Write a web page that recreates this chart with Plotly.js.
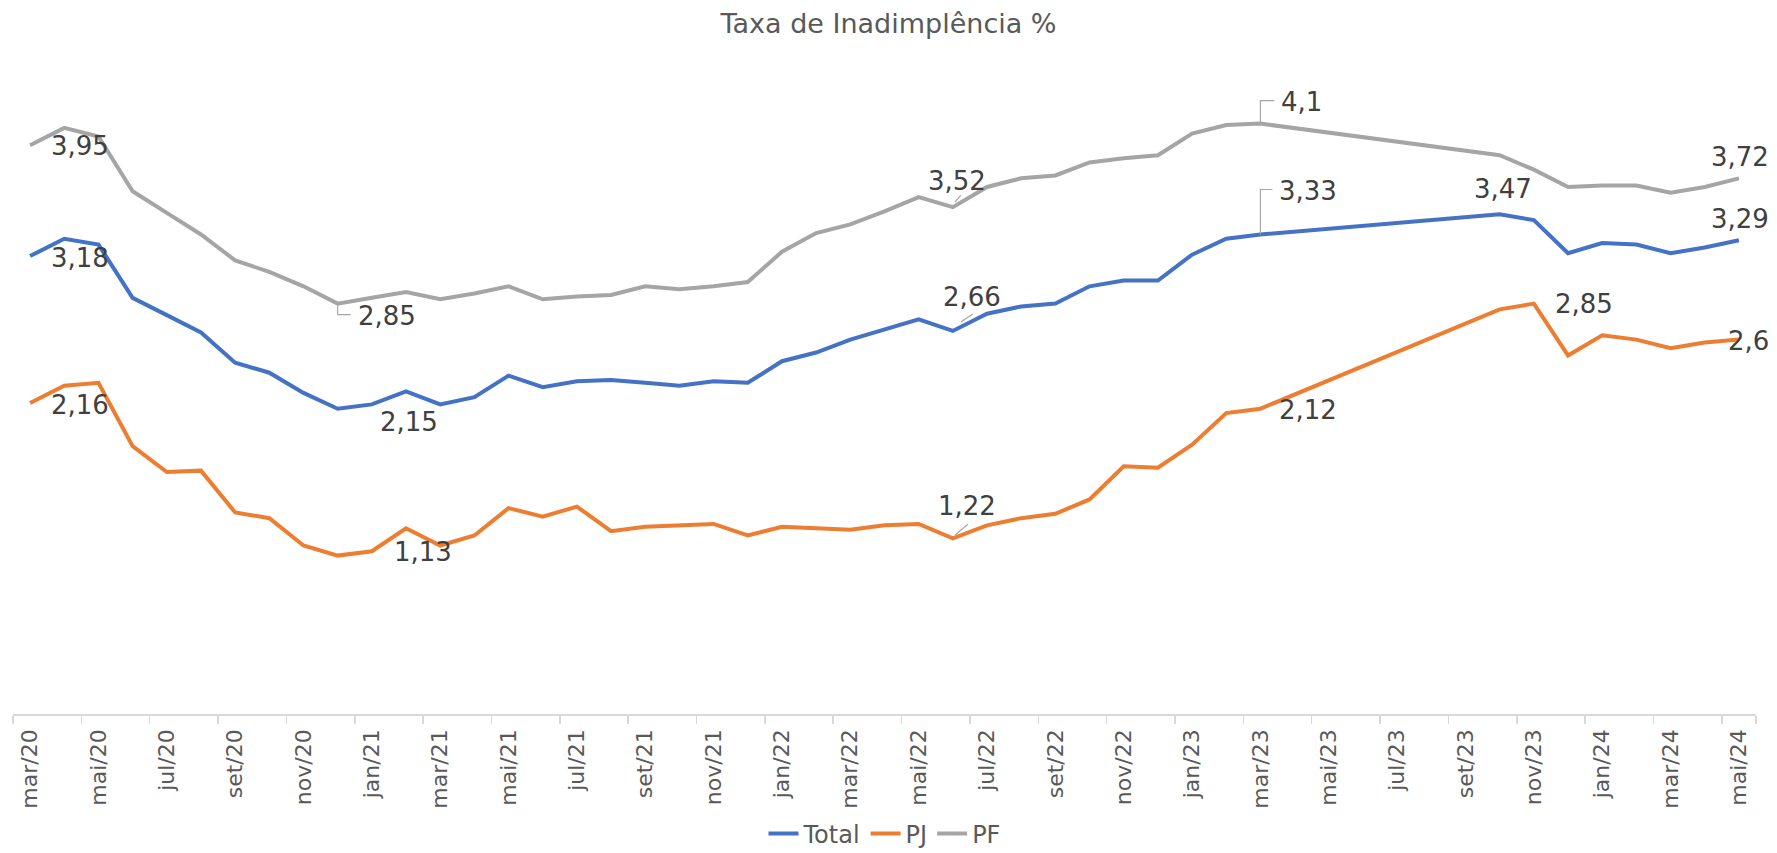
<!DOCTYPE html>
<html>
<head>
<meta charset="utf-8">
<script src="https://cdn.plot.ly/plotly-3.0.1.min.js"></script>
<style>html,body{margin:0;padding:0;background:#fff;}#chart{width:1777px;height:853px;}</style>
</head>
<body>
<div id="chart"></div>
<script>
// Categories (monthly; abr/23–set/23 have no data)
var months = [
  'mar/20','abr/20','mai/20','jun/20','jul/20','ago/20','set/20','out/20','nov/20','dez/20',
  'jan/21','fev/21','mar/21','abr/21','mai/21','jun/21','jul/21','ago/21','set/21','out/21','nov/21','dez/21',
  'jan/22','fev/22','mar/22','abr/22','mai/22','jun/22','jul/22','ago/22','set/22','out/22','nov/22','dez/22',
  'jan/23','fev/23','mar/23','abr/23','mai/23','jun/23','jul/23','ago/23','set/23','out/23','nov/23','dez/23',
  'jan/24','fev/24','mar/24','abr/24','mai/24'
];

var total = [3.18,3.30,3.26,2.89,2.77,2.65,2.44,2.37,2.23,2.12,
  2.15,2.24,2.15,2.20,2.35,2.27,2.31,2.32,2.30,2.28,2.31,2.30,
  2.45,2.51,2.60,2.67,2.74,2.66,2.78,2.83,2.85,2.97,3.01,3.01,
  3.19,3.30,3.33,null,null,null,null,null,null,3.47,3.43,3.20,
  3.27,3.26,3.20,3.24,3.29];

var pj = [2.16,2.28,2.30,1.86,1.68,1.69,1.40,1.36,1.17,1.10,
  1.13,1.29,1.17,1.24,1.43,1.37,1.44,1.27,1.30,1.31,1.32,1.24,
  1.30,1.29,1.28,1.31,1.32,1.22,1.31,1.36,1.39,1.49,1.72,1.71,
  1.87,2.09,2.12,null,null,null,null,null,null,2.81,2.85,2.49,
  2.63,2.60,2.54,2.58,2.60];

var pf = [3.95,4.07,4.01,3.63,3.48,3.33,3.15,3.07,2.97,2.85,
  2.89,2.93,2.88,2.92,2.97,2.88,2.90,2.91,2.97,2.95,2.97,3.00,
  3.21,3.34,3.40,3.49,3.59,3.52,3.66,3.72,3.74,3.83,3.86,3.88,
  4.03,4.09,4.10,null,null,null,null,null,null,3.88,3.78,3.66,
  3.67,3.67,3.62,3.66,3.72];

var seriesNames = ['Total','PJ','PF'];
var seriesColors = ['#4472C4','#ED7D31','#A5A5A5'];
var seriesData = {Total: total, PJ: pj, PF: pf};

// Which points carry a data label (series, month index) and where the text sits (pixels)
var labelSpec = [
  {s:'PF',    i:0,  anchor:'left',   dx:19, dy:1},
  {s:'Total', i:0,  anchor:'left',   dx:19, dy:2},
  {s:'PJ',    i:0,  anchor:'left',   dx:19, dy:2},
  {s:'PF',    i:9,  anchor:'left',   dx:18, dy:12, leader:[[0,0],[0,11],[13,11]]},
  {s:'Total', i:10, anchor:'center', dx:37, dy:18},
  {s:'PJ',    i:10, anchor:'left',   dx:20, dy:1},
  {s:'PF',    i:27, anchor:'center', dx:4,  dy:-26, leader:[[2,-5],[8,-12]]},
  {s:'Total', i:27, anchor:'center', dx:19, dy:-34, leader:[[8,-9],[20,-17]]},
  {s:'PJ',    i:27, anchor:'center', dx:14, dy:-32, leader:[[2,-3],[15,-14]]},
  {s:'PF',    i:36, anchor:'left',   dx:19, dy:-22, leader:[[0,0],[0,-23],[14,-23]]},
  {s:'Total', i:36, anchor:'left',   dx:17, dy:-43, leader:[[0,0],[0,-45],[12,-45]]},
  {s:'PJ',    i:36, anchor:'left',   dx:17, dy:1},
  {s:'Total', i:43, anchor:'center', dx:3,  dy:-25},
  {s:'PJ',    i:44, anchor:'left',   dx:19, dy:0},
  {s:'PF',    i:50, anchor:'center', dx:1,  dy:-21},
  {s:'Total', i:50, anchor:'center', dx:1,  dy:-21},
  {s:'PJ',    i:50, anchor:'right',  dx:32, dy:1}
];

function fmt(v){ return String(v).replace('.', ','); }

var traces = seriesNames.map(function(n, k){
  return {
    type:'scatter', mode:'lines', name:n,
    x: months, y: seriesData[n],
    connectgaps:true,
    line:{color:seriesColors[k], width:4},
    hoverinfo:'skip'
  };
});

var tickLabels = months.filter(function(m, i){ return i % 2 === 0; });

var annotations = labelSpec.map(function(L){
  return {
    x: L.i, y: seriesData[L.s][L.i], xref:'x', yref:'y',
    text: fmt(seriesData[L.s][L.i]), showarrow:false,
    xanchor: L.anchor, yanchor:'middle',
    xshift: L.dx, yshift: -L.dy,
    font:{family:'DejaVu Sans', size:26, color:'#404040'}
  };
});

var shapes = [];
labelSpec.forEach(function(L){
  if(!L.leader) return;
  var p = L.leader.map(function(pt, j){ return (j===0?'M':'L') + pt[0] + ',' + (-pt[1]); }).join(' ');
  shapes.push({
    type:'path', xref:'x', yref:'y',
    xsizemode:'pixel', ysizemode:'pixel',
    xanchor: L.i, yanchor: seriesData[L.s][L.i],
    path: p,
    line:{color:'#A6A6A6', width:1.2}
  });
});

var layout = {
  width:1777, height:853,
  paper_bgcolor:'#ffffff', plot_bgcolor:'#ffffff',
  margin:{l:13, r:21, t:66, b:139, autoexpand:false},
  title:{
    text:'Taxa de Inadimplência %',
    x:0.5, xref:'container', xanchor:'center',
    y:1 - 24/853, yref:'container', yanchor:'middle',
    font:{family:'DejaVu Sans', size:27, color:'#595959'}
  },
  xaxis:{
    type:'category', range:[-0.5, months.length - 0.5],
    tickmode:'array', tickvals: tickLabels, ticktext: tickLabels,
    tickson:'boundaries', ticks:'outside', ticklen:8, tickcolor:'#D9D9D9', tickwidth:1.5,
    showline:true, linecolor:'#D9D9D9', linewidth:1.5,
    showgrid:false, zeroline:false, tickangle:-90,
    ticklabelstandoff:5,
    tickfont:{family:'DejaVu Sans', size:22, color:'#595959'},
    automargin:false, fixedrange:true
  },
  yaxis:{
    range:[0, 4.5], visible:false, showgrid:false, zeroline:false, fixedrange:true
  },
  showlegend:true,
  legend:{
    orientation:'h', x:0.5, xanchor:'center', y:(714-834)/648, yanchor:'middle',
    font:{family:'DejaVu Sans', size:24, color:'#595959'},
    bgcolor:'rgba(0,0,0,0)', tracegroupgap:0
  },
  annotations: annotations,
  shapes: shapes,
  hovermode:false
};

Plotly.newPlot('chart', traces, layout, {displayModeBar:false, staticPlot:true});
</script>
</body>
</html>
